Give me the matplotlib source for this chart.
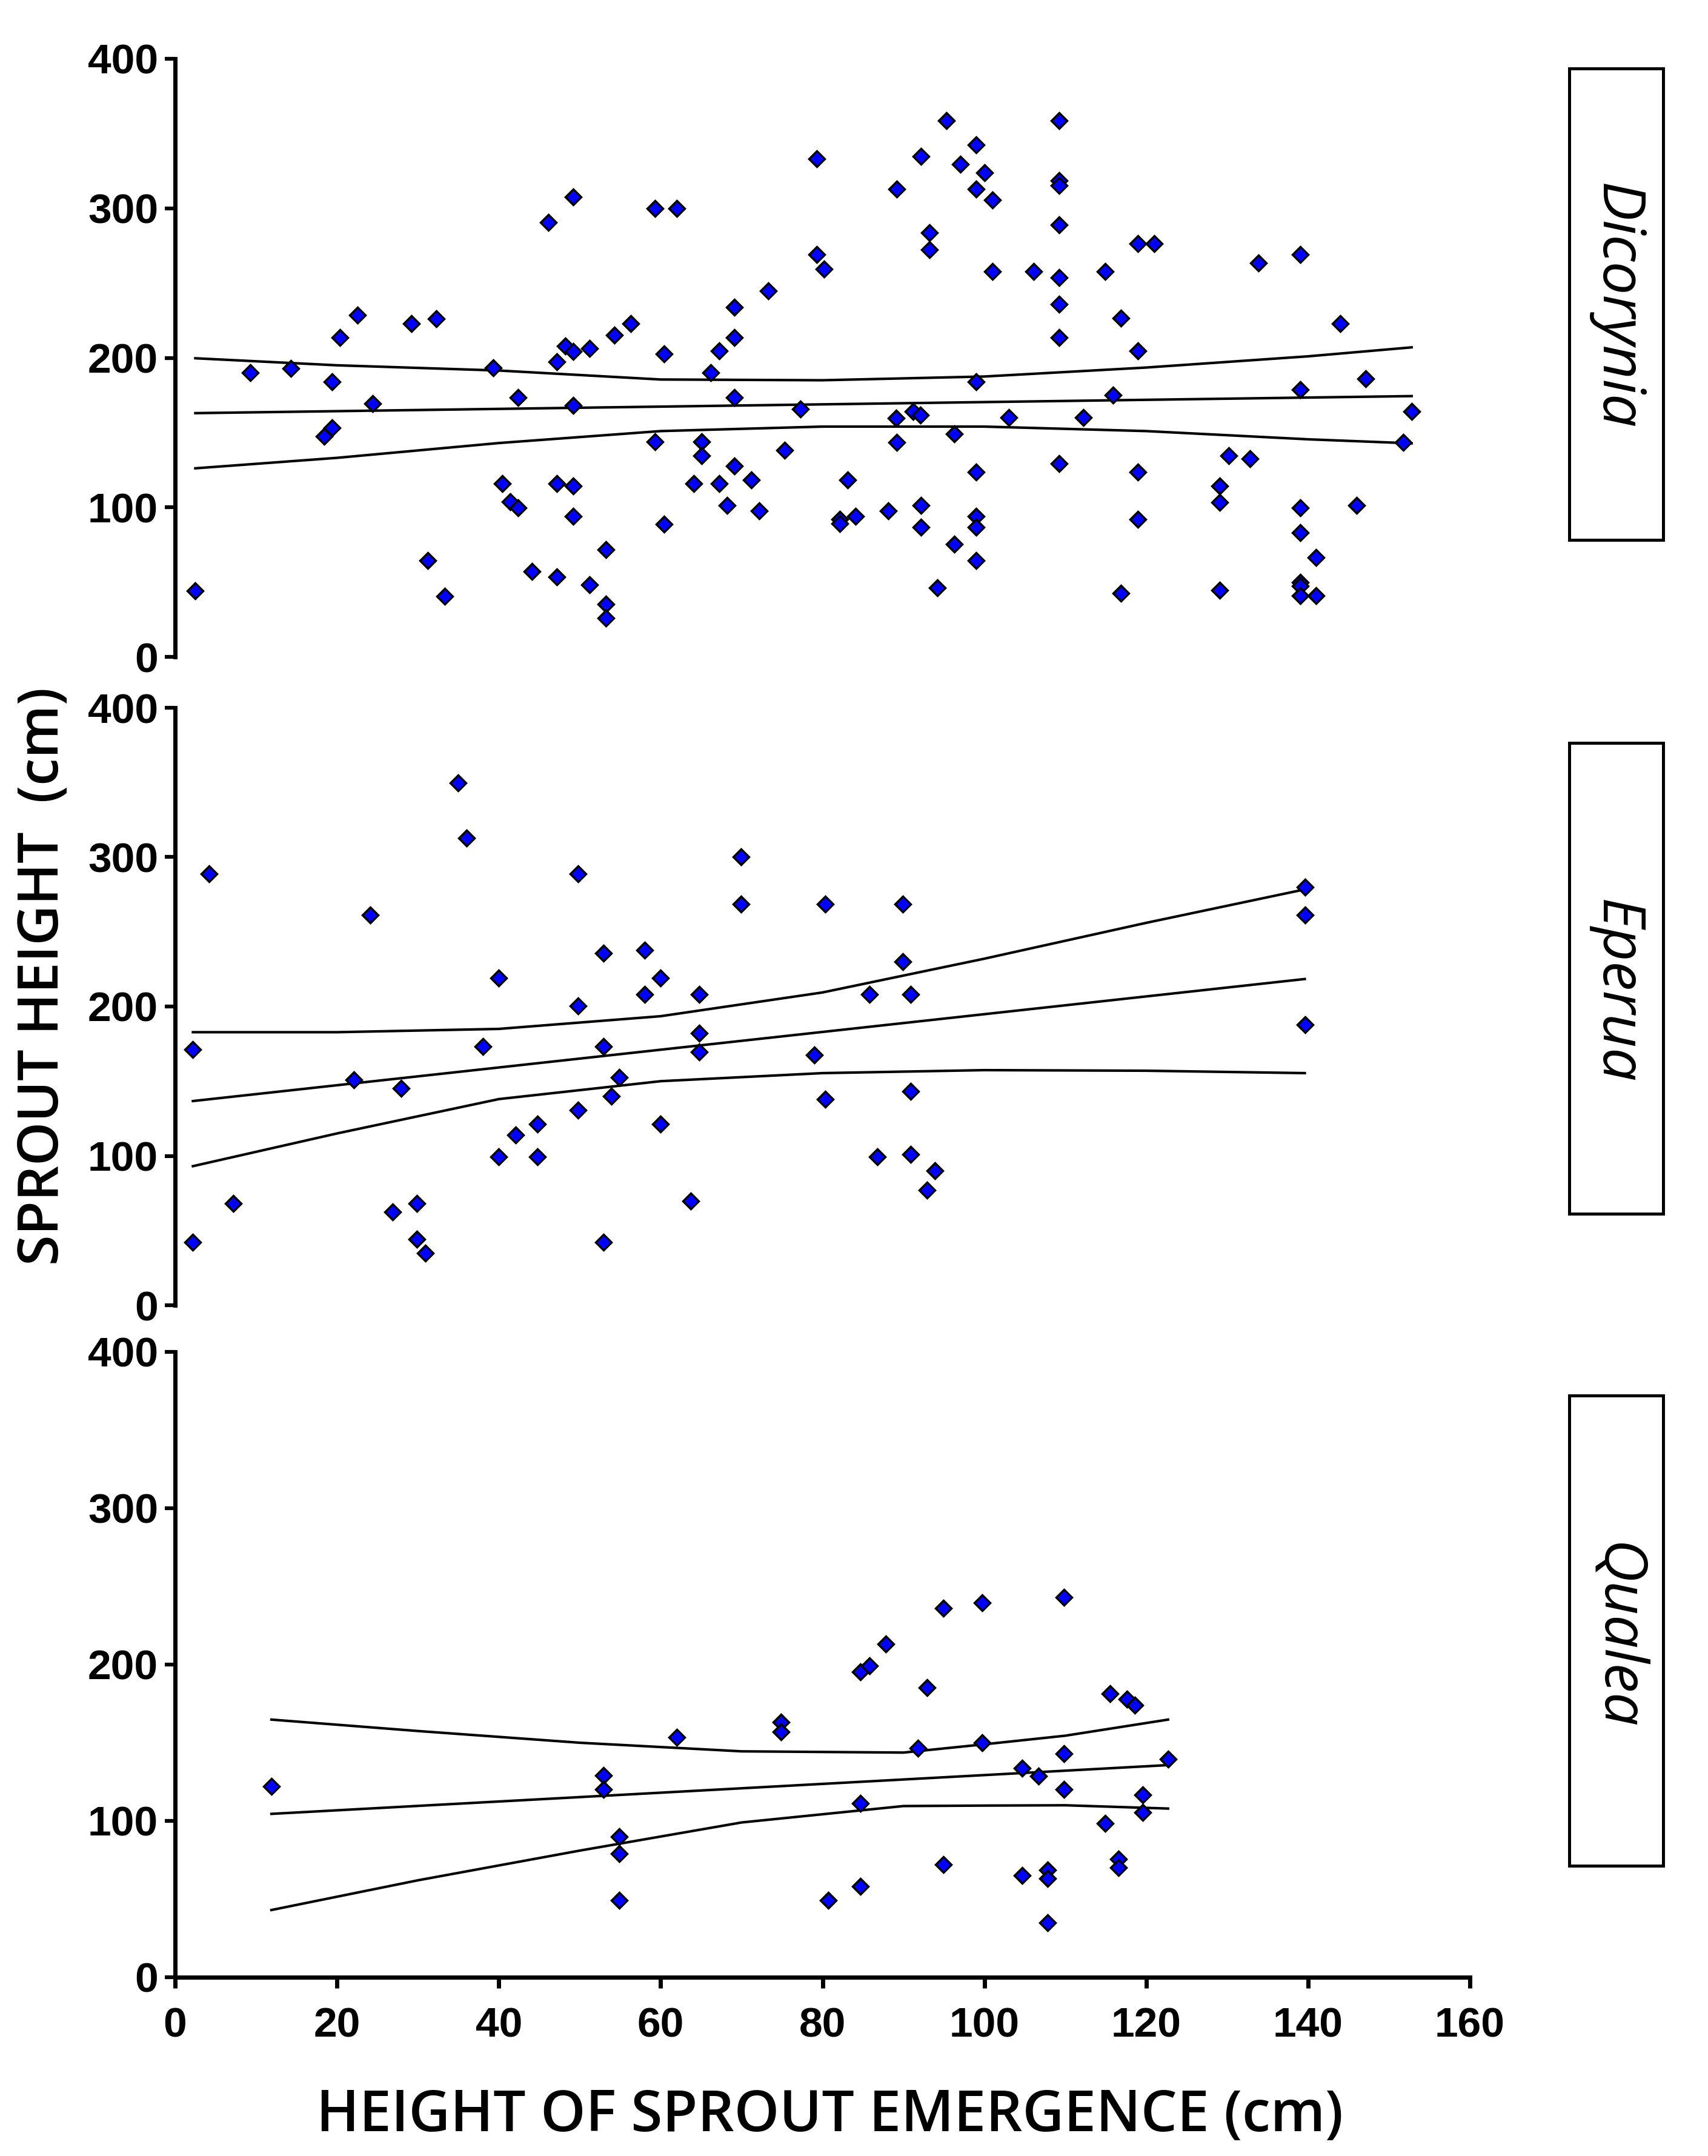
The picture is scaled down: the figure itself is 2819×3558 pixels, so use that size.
import matplotlib
matplotlib.use('Agg')
import matplotlib.pyplot as plt
from matplotlib.patches import Rectangle

# Dicorynia: height of sprout emergence (cm) vs sprout height (cm)
dic_x = [2.5, 9.3, 14.3, 19.4, 19.4, 18.4, 20.4, 22.5, 24.4, 29.2, 32.3, 31.2, 33.3,
         39.3, 40.4, 41.4, 42.4, 42.4, 44.1, 46.1, 47.2, 47.2, 47.2, 48.2, 49.2, 49.2,
         49.2, 49.2, 49.2, 51.2, 51.2, 53.2, 53.2, 53.2, 54.3, 56.3, 59.3, 59.3, 60.4,
         60.4, 62.0, 64.1, 65.1, 65.1, 66.2, 67.2, 67.2, 68.2, 69.1, 69.1, 69.1, 69.1,
         71.2, 72.2, 73.3, 75.3, 77.3, 79.3, 79.3, 80.2,
         95.3, 109.2, 99.0, 92.2, 97.0, 100.0, 89.2, 99.0, 101.0, 109.2, 109.2, 109.2,
         93.2, 93.2, 119.0, 121.0, 133.9, 139.0, 101.0, 106.1, 109.2, 114.9, 109.2,
         116.9, 144.0, 109.2, 119.0, 147.1, 99.0, 115.9, 139.0, 152.8, 89.1, 91.2, 92.1,
         103.0, 112.2, 89.2, 96.3, 151.8, 130.2, 132.8, 83.1, 109.2, 99.0, 119.0, 129.1,
         129.1, 139.0, 146.0, 82.1, 82.1, 84.1, 88.1, 92.2, 92.2, 99.0, 99.0, 119.0,
         139.0, 96.3, 99.0, 141.0, 94.2, 116.9, 129.1, 139.0, 139.0, 139.0, 141.0]
dic_y = [44, 190, 193, 184, 153, 147.5, 213.7, 228.5, 169.6, 222.9, 226.3, 64.4, 40.6,
         193.3, 116, 103.7, 99.5, 173.3, 57.1, 290.7, 53.5, 116, 197.2, 208.1, 204.2, 307.5,
         168, 114.3, 94, 206.2, 48.2, 71.9, 35.3, 26.1, 215.4, 222.9, 299.9, 143.9, 202.6,
         88.6, 299.9, 116, 143.9, 134.7, 190, 116, 204.5, 101.2, 213.7, 233.8, 173.3, 127.5,
         118.3, 97.6, 244.7, 138, 165.9, 333.1, 268.9, 259.4,
         358.8, 358.8, 342.4, 334.9, 329.5, 324, 312.8, 312.8, 305.6, 318.7, 315.3, 289.1,
         283.7, 272.3, 276.2, 276.2, 263.3, 268.9, 257.8, 257.8, 253.9, 257.8, 235.8,
         226.6, 222.9, 213.7, 204.5, 186.1, 184.1, 175.2, 178.8, 164, 159.7, 164.2, 161.9,
         160.1, 160.1, 143.6, 149.2, 143.6, 134.7, 132.7, 118.3, 129.1, 123.5, 123.5, 114.3,
         103.2, 99.5, 101.5, 92, 89, 94, 97.6, 101.2, 86.7, 94, 86.7, 92,
         83.1, 75.5, 64.6, 66.3, 46.2, 42.6, 44.5, 49.8, 47.4, 40.9, 40.9]

# Eperua
epe_x = [2.2, 2.2, 4.2, 7.2, 22.1, 24.1, 27.9, 26.9, 29.9, 29.9, 30.9, 35.0, 36.0, 38.0,
         40.0, 40.0, 42.1, 44.8, 44.8, 49.8, 49.8, 49.8, 52.9, 52.9, 52.9, 54.9, 53.9,
         58.0, 58.0, 60.0, 60.0, 63.7, 64.8, 64.8, 64.8, 69.9, 69.9, 79.0, 80.3, 80.3,
         89.9, 89.9, 85.8, 90.9, 90.9, 86.8, 90.9, 93.9, 92.9, 139.6, 139.6, 139.6]
epe_y = [171.1, 42.3, 288.9, 68.3, 150.9, 261.3, 145.3, 62.4, 68.3, 44.3, 34.8, 349.6, 312.7,
         173.1, 219.2, 99.3, 114.1, 121.4, 99.3, 288.9, 200.4, 130.5, 235.9, 173.1, 42.3,
         152.7, 139.8, 237.6, 208, 219.2, 121.4, 69.9, 208, 182.3, 169.4, 300, 268.6, 167.5,
         268.6, 137.8, 268.6, 230, 208, 208, 143.4, 99.3, 101.2, 90, 77.2, 279.8, 261.3, 187.8]

# Qualea
qua_x = [11.9, 52.9, 52.9, 54.9, 54.9, 54.9, 62.0, 74.9, 74.9, 80.7, 84.7, 84.7, 85.8,
         84.7, 87.8, 92.9, 91.8, 94.9, 94.9, 99.7, 99.7, 104.7, 104.7, 106.7, 107.8, 107.8,
         107.8, 109.8, 109.8, 109.8, 114.9, 115.5, 117.6, 118.6, 116.6, 116.6, 119.6, 119.6,
         122.7]
qua_y = [122, 129.2, 120, 89.8, 79.1, 49.2, 153.6, 163, 157.1, 49.2, 111.1, 195.3, 199.3,
         58, 213.2, 185.1, 146.4, 235.9, 72.1, 239.6, 150.1, 133.8, 65.2, 128.8, 68.7, 63.1,
         35, 243.1, 142.9, 120, 98.3, 181.4, 177.9, 174.2, 75.6, 70.3, 116.5, 105.5, 139.5]

# regression line (ends) and 95% band
dic_fit_x = [2.5, 152.8]
dic_fit_y = [163.0, 174.4]
dic_band_x = [2.5, 20, 40, 60, 80, 100, 120, 140, 152.8]
dic_upper = [199.7, 195.0, 191.5, 185.5, 185.0, 187.5, 193.5, 201.0, 207.0]
dic_lower = [126.1, 133.1, 143.0, 151.0, 154.0, 154.0, 151.0, 145.5, 142.8]

epe_fit_x = [2.2, 139.6]
epe_fit_y = [136.7, 218.4]
epe_band_x = [2.2, 20, 40, 60, 80, 100, 120, 139.6]
epe_upper = [182.8, 182.8, 185.0, 193.5, 209.4, 232.0, 256.0, 278.4]
epe_lower = [93.1, 115.0, 138.0, 150.0, 155.4, 157.4, 157.0, 155.4]

qua_fit_x = [11.9, 122.7]
qua_fit_y = [104.5, 135.7]
qua_band_x = [11.9, 30, 50, 70, 90, 100, 110, 122.7]
qua_upper = [164.8, 157.5, 150.0, 144.5, 143.7, 149.0, 154.5, 164.8]
qua_lower = [43.0, 62.0, 81.0, 99.0, 109.5, 109.8, 110.0, 107.9]

names = ['Dicorynia', 'Eperua', 'Qualea']
x_ticks = [0, 20, 40, 60, 80, 100, 120, 140, 160]
y_ticks = [0, 100, 200, 300, 400]

W, H = 2819, 3558
plt.rcParams['font.family'] = ['Liberation Sans', 'DejaVu Sans']

fig = plt.figure(figsize=(W / 100, H / 100), dpi=100)


def fig_rect(left, top, right, bottom):
    # pixel box -> figure fraction [l, b, w, h]
    return [left / W, 1 - bottom / H, (right - left) / W, (bottom - top) / H]


panels = [
    (dic_x, dic_y, dic_fit_x, dic_fit_y, dic_band_x, dic_upper, dic_lower,
     (289, 97, 2426, 1084), (2590, 113, 2745, 891), 506),
    (epe_x, epe_y, epe_fit_x, epe_fit_y, epe_band_x, epe_upper, epe_lower,
     (289, 1168, 2426, 2154), (2590, 1226, 2745, 2003), 1636),
    (qua_x, qua_y, qua_fit_x, qua_fit_y, qua_band_x, qua_upper, qua_lower,
     (289, 2231, 2426, 3263), (2590, 2303, 2745, 3079), 2700),
]

for i, (xs, ys, fx, fy, bx, up, lo, rect, box, ty) in enumerate(panels):
    ax = fig.add_axes(fig_rect(*rect))
    ax.plot(fx, fy, color='black', lw=3)
    ax.plot(bx, up, color='black', lw=3)
    ax.plot(bx, lo, color='black', lw=3)
    ax.plot(xs, ys, 'D', color='#0000ff', markeredgecolor='black',
            markersize=13, markeredgewidth=2.5, clip_on=False, zorder=3)

    ax.set_xlim(0, 160)
    ax.set_ylim(0, 400)
    ax.set_yticks(y_ticks)
    for side in ['top', 'right']:
        ax.spines[side].set_visible(False)
    ax.spines['left'].set_linewidth(5)
    ax.tick_params(axis='y', length=12, width=4.5, pad=8)
    for lbl in ax.get_yticklabels():
        lbl.set_fontsize(50)
        lbl.set_fontweight('bold')

    if i < 2:
        ax.spines['bottom'].set_visible(False)
        ax.set_xticks([])
    else:
        ax.spines['bottom'].set_linewidth(5)
        ax.set_xticks(x_ticks)
        ax.tick_params(axis='x', length=13, width=5, pad=22)
        for lbl in ax.get_xticklabels():
            lbl.set_fontsize(50)
            lbl.set_fontweight('bold')

    l, t, r, b = box
    fig.add_artist(Rectangle((l / W, 1 - b / H), (r - l) / W, (b - t) / H,
                             transform=fig.transFigure, fill=False,
                             lw=3.6, ec='black'))
    fig.text((l + r) / 2 / W, 1 - ty / H, names[i], rotation=-90, style='italic',
             family='Open Sans', fontsize=70, ha='center', va='center')

fig.text(1370 / W, 1 - 3493 / H, 'HEIGHT OF SPROUT EMERGENCE (cm)', family='Open Sans',
         fontweight='semibold', fontsize=68, ha='center', va='center')
fig.text(72 / W, 1 - 1611 / H, 'SPROUT HEIGHT  (cm)', family='Open Sans',
         fontweight='semibold', fontsize=66, rotation=90, ha='center', va='center')

fig.savefig('out.png', dpi=100, facecolor='white')
